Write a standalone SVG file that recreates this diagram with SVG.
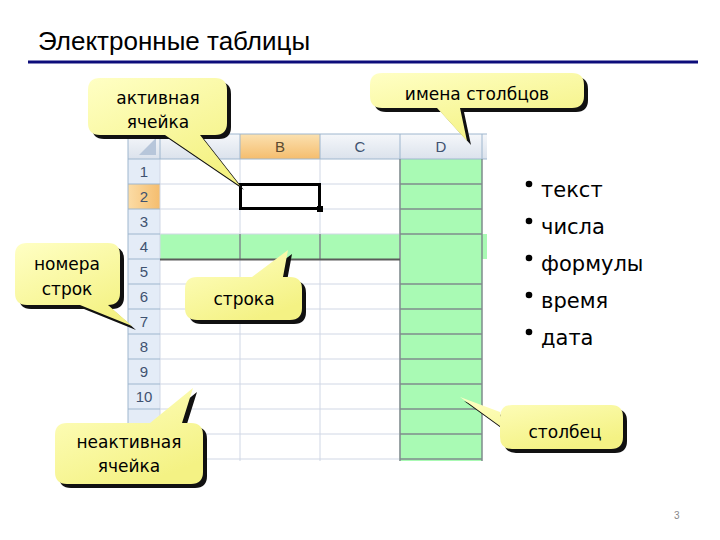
<svg xmlns="http://www.w3.org/2000/svg" width="720" height="540" viewBox="0 0 720 540">
<defs>
<linearGradient id="hdr" x1="0" y1="0" x2="0" y2="1"><stop offset="0" stop-color="#f5f7fa"/><stop offset="1" stop-color="#dbe2ec"/></linearGradient>
<linearGradient id="hdrSel" x1="0" y1="0" x2="0" y2="1"><stop offset="0" stop-color="#fbe1b0"/><stop offset="1" stop-color="#f5bd6e"/></linearGradient>
<linearGradient id="rowSel" x1="0" y1="0" x2="1" y2="0"><stop offset="0" stop-color="#fbdca6"/><stop offset="1" stop-color="#f5bd6e"/></linearGradient>
<linearGradient id="yel" x1="0" y1="0" x2="0.6" y2="1"><stop offset="0" stop-color="#ffffc4"/><stop offset="1" stop-color="#f4f284"/></linearGradient>
<style>
.t{font-family:"DejaVu Sans",Verdana,sans-serif;fill:#000}
.co{font-size:17px;text-anchor:middle}
.hd{font-family:"Liberation Sans",Arial,sans-serif;font-size:15px;fill:#3f5270;text-anchor:middle}
.g{stroke:#d0d7e5;stroke-width:1;fill:none}
.gh{stroke:#9eb6ce;stroke-width:1;fill:none}
.gd{stroke:#7f8c8c;stroke-width:1.5;fill:none}
.bub{fill:url(#yel)}
.sh{fill:#111}
.bl{font-size:21px}
</style>
</defs>
<rect width="720" height="540" fill="#fff"/>
<g id="title">
<text x="38" y="50" font-family="Liberation Sans, Arial, sans-serif" font-size="26" fill="#000">Электронные таблицы</text>
<line x1="28" y1="62" x2="698" y2="62" stroke="#0c0c7a" stroke-width="3"/>
</g>
<g id="sheet">
<rect x="128" y="134" width="359" height="327" fill="#fff"/>
<rect x="128" y="134" width="359" height="25" fill="url(#hdr)"/>
<rect x="240" y="134" width="80" height="25" fill="url(#hdrSel)"/>
<rect x="128" y="159" width="32" height="302" fill="#e4ecf7"/>
<rect x="128" y="184" width="32" height="25" fill="url(#rowSel)"/>
<polygon points="156,138 156,155 139,155" fill="#b7c6da"/>
<rect x="400" y="159" width="82" height="302" fill="#a9fab4"/>
<rect x="160" y="234" width="327" height="25" fill="#a9fab4"/>
<path class="g" d="M160,184H400M160,209H400M160,284H400M160,309H400M160,334H400M160,359H400M160,384H400M160,409H400M160,434H400M160,459H400M240,159V234M320,159V234M240,259V461M320,259V461M400,159V461M160,159V461M160,234H400"/>
<path class="gh" d="M128,134H487M128,159H487M160,134V159M240,134V159M320,134V159M400,134V159M482,134V159M128,134V461M128,184H160M128,209H160M128,234H160M128,259H160M128,284H160M128,309H160M128,334H160M128,359H160M128,384H160M128,409H160M128,434H160M128,459H160"/>
<path class="gd" d="M400,184H482M400,209H482M400,234H482M400,284H482M400,309H482M400,334H482M400,359H482M400,384H482M400,409H482M400,434H482M400,459H482M240,234V259M320,234V259M400,159V461M482,159V461"/>
<path d="M160,259.5H400" stroke="#5a5a5a" stroke-width="2"/>
<text class="hd" x="280" y="152" style="fill:#5c4a30">B</text>
<text class="hd" x="360" y="152">C</text>
<text class="hd" x="441" y="152">D</text>
<text class="hd" x="144" y="177">1</text>
<text class="hd" x="144" y="202">2</text>
<text class="hd" x="144" y="227">3</text>
<text class="hd" x="144" y="252">4</text>
<text class="hd" x="144" y="277">5</text>
<text class="hd" x="144" y="302">6</text>
<text class="hd" x="144" y="327">7</text>
<text class="hd" x="144" y="352">8</text>
<text class="hd" x="144" y="377">9</text>
<text class="hd" x="144" y="402">10</text>
<rect x="240.5" y="184.5" width="79" height="24" fill="none" stroke="#000" stroke-width="3"/>
<rect x="317" y="206" width="6" height="6" fill="#000"/>
</g>
<g id="connectors"></g>
<g id="callout-active">
<path class="sh" transform="translate(4,4)" d="M100,78H215Q227,78 227,90V123Q227,135 215,135H200L240,186L165,135H100Q88,135 88,123V90Q88,78 100,78Z"/>
<path class="bub" d="M100,78H215Q227,78 227,90V123Q227,135 215,135H200L240,186L165,135H100Q88,135 88,123V90Q88,78 100,78Z"/>
<text class="t co" x="158" y="104">активная</text>
<text class="t co" x="158" y="128">ячейка</text>
</g>
<g id="callout-colnames">
<path class="sh" transform="translate(4,4)" d="M382,73H572Q584,73 584,85V96Q584,108 572,108H460L467,141L437,108H382Q370,108 370,96V85Q370,73 382,73Z"/>
<path class="bub" d="M382,73H572Q584,73 584,85V96Q584,108 572,108H460L467,141L437,108H382Q370,108 370,96V85Q370,73 382,73Z"/>
<text class="t co" x="477" y="100">имена столбцов</text>
</g>
<g id="callout-rownums">
<path class="sh" transform="translate(4,4)" d="M27,243H108Q120,243 120,255V293Q120,305 108,305H108L132,326L80,305H27Q15,305 15,293V255Q15,243 27,243Z"/>
<path class="bub" d="M27,243H108Q120,243 120,255V293Q120,305 108,305H108L132,326L80,305H27Q15,305 15,293V255Q15,243 27,243Z"/>
<text class="t co" x="67" y="270">номера</text>
<text class="t co" x="67" y="295">строк</text>
</g>
<g id="callout-row">
<path class="sh" transform="translate(4,4)" d="M197,277H252L288,250L283,277H290Q302,277 302,289V308Q302,320 290,320H197Q185,320 185,308V289Q185,277 197,277Z"/>
<path class="bub" d="M197,277H252L288,250L283,277H290Q302,277 302,289V308Q302,320 290,320H197Q185,320 185,308V289Q185,277 197,277Z"/>
<text class="t co" x="244" y="305">строка</text>
</g>
<g id="callout-inactive">
<path class="sh" transform="translate(4,4)" d="M67,423H150L193,388L182,423H191Q203,423 203,435V472Q203,484 191,484H67Q55,484 55,472V435Q55,423 67,423Z"/>
<path class="bub" d="M67,423H150L193,388L182,423H191Q203,423 203,435V472Q203,484 191,484H67Q55,484 55,472V435Q55,423 67,423Z"/>
<text class="t co" x="129" y="448">неактивная</text>
<text class="t co" x="129" y="472">ячейка</text>
</g>
<g id="callout-column">
<path class="sh" transform="translate(4,4)" d="M512,405H611Q623,405 623,417V437Q623,449 611,449H512Q500,449 500,437V426L460,397L500,412V417Q500,405 512,405Z"/>
<path class="bub" d="M512,405H611Q623,405 623,417V437Q623,449 611,449H512Q500,449 500,437V426L460,397L500,412V417Q500,405 512,405Z"/>
<text class="t co" x="565" y="438">столбец</text>
</g>
<g id="bullets">
<circle cx="529" cy="184" r="3.3" fill="#000"/>
<text class="t bl" x="541" y="197">текст</text>
<circle cx="529" cy="221" r="3.3" fill="#000"/>
<text class="t bl" x="541" y="234">числа</text>
<circle cx="529" cy="258" r="3.3" fill="#000"/>
<text class="t bl" x="541" y="271">формулы</text>
<circle cx="529" cy="295" r="3.3" fill="#000"/>
<text class="t bl" x="541" y="308">время</text>
<circle cx="529" cy="332" r="3.3" fill="#000"/>
<text class="t bl" x="541" y="345">дата</text>
</g>
<text x="674" y="519" font-family="Liberation Sans, Arial, sans-serif" font-size="10" fill="#888">3</text>
</svg>
